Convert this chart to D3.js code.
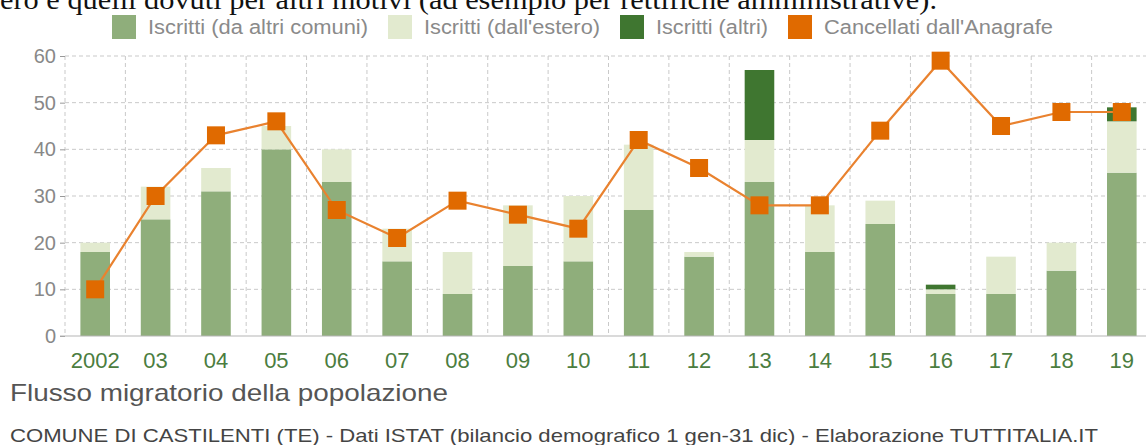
<!DOCTYPE html>
<html>
<head>
<meta charset="utf-8">
<script src="https://cdn.jsdelivr.net/npm/d3@7"></script>
<style>
  body { margin: 0; background: #fff; }
  svg { display: block; overflow: hidden; }
  text { font-family: "Liberation Sans", Arial, sans-serif; }
</style>
</head>
<body>
<div id="chart"></div>
<script>
var width = 1146;
var height = 445;

// data
var anni = ["2002","03","04","05","06","07","08","09","10","11","12","13","14","15","16","17","18","19"];
var iscrittiComuni = [18,25,31,40,33,16,9,15,16,27,17,33,18,24,9,9,14,35];
var iscrittiEstero = [2,7,5,5,7,7,9,13,14,14,1,9,10,5,1,8,6,11];
var iscrittiAltri  = [0,0,0,0,0,0,0,0,0,0,0,15,0,0,1,0,0,3];
var cancellati     = [10,30,43,46,27,21,29,26,23,42,36,28,28,44,59,45,48,48];
var yTicks = [0,10,20,30,40,50,60];

var legendItems = [
  {label: "Iscritti (da altri comuni)", color: "#8fae7b", w: 220},
  {label: "Iscritti (dall'estero)", color: "#e2eacf", w: 176},
  {label: "Iscritti (altri)", color: "#3f7630", w: 112},
  {label: "Cancellati dall'Anagrafe", color: "#e06a00", w: 229}
];

var plotLeft = 65, plotRight = 1152, plotTop = 56, plotBottom = 336;

var svg = d3.select("#chart").append("svg")
  .attr("width", width)
  .attr("height", height);

// text cut off at the top
svg.append("text")
  .attr("x", 0).attr("y", 9)
  .style("font-family", "'Liberation Serif', 'Times New Roman', serif")
  .attr("font-size", 27)
  .attr("fill", "#111")
  .attr("textLength", 937)
  .attr("lengthAdjust", "spacingAndGlyphs")
  .text("ero e quelli dovuti per altri motivi (ad esempio per rettifiche amministrative).");

// legend
var lx = 112;
legendItems.forEach(function(d) {
  svg.append("rect")
    .attr("x", lx).attr("y", 15)
    .attr("width", 24).attr("height", 24)
    .attr("fill", d.color);
  svg.append("text")
    .attr("x", lx + 36).attr("y", 34)
    .attr("font-size", 20)
    .attr("fill", "#8a8a8a")
    .attr("textLength", d.w)
    .attr("lengthAdjust", "spacingAndGlyphs")
    .text(d.label);
  lx = lx + 36 + d.w + 20;
});

var x = d3.scaleBand().domain(anni).range([plotLeft, plotRight]);
var y = d3.scaleLinear().domain([0, 60]).range([plotBottom, plotTop]);

// grid
var grid = svg.append("g").attr("stroke", "#c9c9c9").attr("stroke-dasharray", "4,3");
grid.selectAll("line.h").data(yTicks.slice(1)).enter().append("line")
  .attr("class", "h")
  .attr("x1", plotLeft).attr("x2", width)
  .attr("y1", function(d) { return y(d); })
  .attr("y2", function(d) { return y(d); });
grid.selectAll("line.v").data(anni).enter().append("line")
  .attr("class", "v")
  .attr("x1", function(d) { return x(d); })
  .attr("x2", function(d) { return x(d); })
  .attr("y1", plotTop).attr("y2", plotBottom);

// y axis
var yAxis = d3.axisLeft(y).tickValues(yTicks).tickSize(5).tickPadding(4);
var gy = svg.append("g")
  .attr("transform", "translate(" + plotLeft + ",0)")
  .call(yAxis);
gy.select(".domain").remove();
gy.selectAll(".tick line").attr("stroke", "#999");
gy.selectAll(".tick text")
  .attr("fill", "#888")
  .attr("font-size", 20)
  .style("font-family", "'Liberation Sans', Arial, sans-serif");

// stacked bars
var table = anni.map(function(a, i) {
  return {anno: a, comuni: iscrittiComuni[i], estero: iscrittiEstero[i], altri: iscrittiAltri[i]};
});
var stack = d3.stack().keys(["comuni", "estero", "altri"])(table);
var colors = {comuni: "#8fae7b", estero: "#e2eacf", altri: "#3f7630"};
var barW = x.bandwidth() * 0.49;

svg.selectAll("g.layer").data(stack).enter().append("g")
  .attr("class", "layer")
  .attr("fill", function(d) { return colors[d.key]; })
  .selectAll("rect").data(function(d) { return d; }).enter().append("rect")
  .attr("x", function(d) { return x(d.data.anno) + (x.bandwidth() - barW) / 2; })
  .attr("y", function(d) { return y(d[1]); })
  .attr("width", barW)
  .attr("height", function(d) { return y(d[0]) - y(d[1]); });

// baseline
svg.append("line")
  .attr("x1", plotLeft - 5).attr("x2", width)
  .attr("y1", plotBottom).attr("y2", plotBottom)
  .attr("stroke", "#b5b5b5");

// x axis labels
var xAxis = d3.axisBottom(x).tickSize(0).tickPadding(16);
var gx = svg.append("g")
  .attr("transform", "translate(0," + plotBottom + ")")
  .call(xAxis);
gx.select(".domain").remove();
gx.selectAll(".tick text")
  .attr("fill", "#4b7d40")
  .attr("font-size", 22)
  .style("font-family", "'Liberation Sans', Arial, sans-serif");

// cancellati line + markers
var cx = function(i) { return x(anni[i]) + x.bandwidth() / 2; };
var line = d3.line()
  .x(function(d, i) { return cx(i); })
  .y(function(d) { return y(d); });
svg.append("path")
  .datum(cancellati)
  .attr("d", line)
  .attr("fill", "none")
  .attr("stroke", "#e9822f")
  .attr("stroke-width", 2.2);

var m = 18;
svg.selectAll("rect.marker").data(cancellati).enter().append("rect")
  .attr("class", "marker")
  .attr("x", function(d, i) { return cx(i) - m / 2; })
  .attr("y", function(d) { return y(d) - m / 2; })
  .attr("width", m).attr("height", m)
  .attr("fill", "#e06a00");

// titles
svg.append("text")
  .attr("x", 10).attr("y", 401)
  .attr("font-size", 24)
  .attr("fill", "#555")
  .attr("textLength", 438)
  .attr("lengthAdjust", "spacingAndGlyphs")
  .text("Flusso migratorio della popolazione");

svg.append("text")
  .attr("x", 10).attr("y", 442)
  .attr("font-size", 19)
  .attr("fill", "#444")
  .attr("textLength", 1088)
  .attr("lengthAdjust", "spacingAndGlyphs")
  .text("COMUNE DI CASTILENTI (TE) - Dati ISTAT (bilancio demografico 1 gen-31 dic) - Elaborazione TUTTITALIA.IT");
</script>
</body>
</html>
